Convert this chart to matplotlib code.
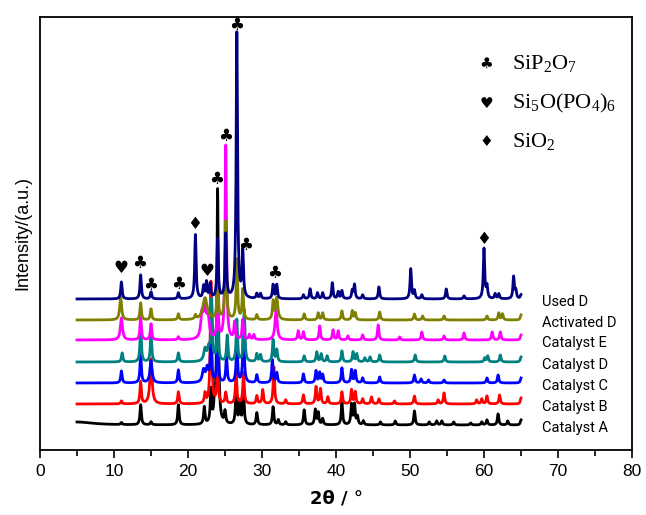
import numpy as np
import matplotlib.pyplot as plt

plt.rcParams['mathtext.fontset'] = 'custom'
plt.rcParams['mathtext.rm'] = 'Liberation Serif'
plt.rcParams['mathtext.it'] = 'Liberation Serif:italic'

################### DATA ###################
names = ['Catalyst A', 'Catalyst B', 'Catalyst C', 'Catalyst D', 'Catalyst E', 'Activated D', 'Used D']
colors = ['#000000', '#ff0000', '#0000ff', '#008080', '#ff00ff', '#808000', '#000080']
offsets = [25, 46, 67, 88, 110, 130, 151]

# (2theta, height[, width])
peaks_A = [(5.0, 3, 2.5), (11.0, 2), (13.6, 20), (15.0, 3), (18.7, 20), (22.2, 17), (23.1, 33), (23.6, 22),
           (24.0, 234), (25.0, 12), (26.5, 32), (27.0, 22), (27.5, 32), (29.3, 12), (31.5, 18), (32.2, 5),
           (33.2, 3), (35.7, 15), (37.2, 15), (37.6, 12), (38.2, 6), (40.8, 22), (42.1, 20), (42.5, 20),
           (42.9, 8), (43.7, 4), (46.0, 3), (48.0, 4), (50.6, 14), (52.6, 3), (53.6, 4), (54.3, 4),
           (55.9, 3), (58.2, 2), (59.7, 3), (60.4, 5), (61.9, 11), (63.2, 4), (65.0, 5)]
peaks_B = [(11.0, 3), (13.6, 22), (15.0, 45, 0.17), (18.7, 12), (22.3, 10), (23.1, 122), (24.0, 40),
           (25.1, 11), (26.5, 31), (27.5, 31), (29.3, 8), (30.1, 14), (31.6, 37), (33.2, 4), (35.6, 9),
           (37.3, 17), (37.9, 15), (38.9, 7), (40.8, 12), (42.1, 14), (42.6, 12), (43.6, 5), (44.8, 7),
           (45.8, 5), (47.9, 3), (50.6, 8), (53.8, 4), (54.6, 11), (59.0, 4), (59.7, 5), (60.4, 8),
           (62.1, 9), (65.0, 6)]
peaks_C = [(11.0, 12), (13.6, 28), (15.0, 22, 0.17), (18.7, 13), (22.1, 12, 0.2), (22.6, 14, 0.2), (23.1, 40),
           (24.0, 45), (25.2, 26), (26.6, 40), (27.5, 60), (29.3, 8), (31.4, 23), (32.0, 10), (35.6, 9),
           (37.3, 12), (37.8, 10), (38.2, 8), (40.8, 15), (42.1, 13), (42.6, 12), (43.6, 5), (45.9, 6),
           (50.6, 8), (51.5, 4), (52.5, 3), (54.6, 3), (60.4, 5), (61.9, 8), (65.0, 5)]
peaks_D = [(11.1, 9), (13.6, 35), (15.0, 29), (18.7, 9), (22.3, 12, 0.2), (22.8, 12, 0.2), (23.2, 60),
           (24.0, 50), (25.3, 26), (26.6, 42), (27.6, 52), (29.3, 8), (29.8, 7), (31.5, 22), (32.0, 12),
           (35.7, 6), (37.4, 10), (38.0, 8), (38.8, 6), (40.8, 11), (42.3, 10), (42.8, 8), (43.9, 4),
           (44.6, 5), (45.9, 7), (50.7, 7), (54.7, 6), (60.1, 4), (60.5, 6), (62.2, 7), (65.0, 5)]
peaks_E = [(11.0, 22, 0.17), (13.6, 23), (15.0, 16), (18.7, 3), (21.9, 24, 0.2), (22.3, 28, 0.2),
           (22.7, 20, 0.2), (24.0, 45), (25.1, 194), (26.3, 17), (27.4, 20), (28.3, 5), (28.9, 5),
           (31.9, 30, 0.17), (34.9, 9), (35.6, 8), (37.8, 14), (39.6, 10), (40.3, 9), (41.6, 4),
           (43.6, 5), (45.7, 15), (48.6, 3), (51.6, 8), (54.6, 4), (57.3, 7), (61.1, 8), (62.2, 8),
           (65.0, 5)]
peaks_Act = [(10.9, 23, 0.15), (13.6, 17), (15.0, 11), (18.7, 6), (21.0, 4), (22.3, 22, 0.35), (24.0, 40),
             (25.1, 98), (26.6, 60), (27.4, 30), (29.3, 5), (31.5, 18), (32.0, 22, 0.17), (35.7, 6),
             (37.6, 7), (38.2, 7), (40.8, 9), (42.2, 9), (42.6, 7), (45.9, 8), (50.6, 6), (51.7, 4),
             (54.6, 4), (60.4, 4), (62.0, 7), (62.5, 6), (65.0, 5)]
peaks_Used = [(11.0, 17), (13.6, 24), (15.0, 7), (18.7, 6), (21.0, 64), (22.1, 12), (22.5, 16), (23.0, 14),
              (24.0, 59), (25.1, 64), (26.6, 266), (27.4, 46), (29.3, 5), (29.8, 5), (31.5, 14), (32.0, 14),
              (35.6, 4), (36.5, 10), (37.5, 6), (38.2, 6), (39.5, 16), (40.3, 7), (40.8, 8), (42.2, 8),
              (42.5, 14), (43.6, 4), (45.8, 12), (50.1, 30), (50.6, 8), (51.6, 4), (54.9, 10), (57.3, 3),
              (60.0, 50), (60.4, 12), (61.5, 5), (62.0, 5), (64.0, 22), (64.3, 8), (65.0, 4)]
all_peaks = [peaks_A, peaks_B, peaks_C, peaks_D, peaks_E, peaks_Act, peaks_Used]

markers = [('\u2665', 10.9, 182), ('\u2663', 13.4, 187), ('\u2663', 14.9, 165), ('\u2663', 18.7, 166),
           ('\u2666', 20.9, 226), ('\u2665', 22.5, 179), ('\u2663', 23.8, 271), ('\u2663', 25.1, 314),
           ('\u2663', 26.6, 425), ('\u2663', 27.8, 205), ('\u2663', 31.7, 177), ('\u2666', 60.0, 211)]
legend_syms = ['\u2663', '\u2665', '\u2666']
legend_txt = [r'$\mathrm{SiP_2O_7}$', r'$\mathrm{Si_5O(PO_4)_6}$', r'$\mathrm{SiO_2}$']
legend_y = [387, 347, 309]

################### FIGURE ###################
fig = plt.figure(figsize=(6.46, 5.15), dpi=100)
ax = fig.add_axes([40/646, 1-450/515, 592/646, 433/515])

tt = np.linspace(5, 65, 2401)
for pk, off, c in zip(all_peaks, offsets, colors):
    y = np.zeros_like(tt) + off
    for p in pk:
        w = p[2] if len(p) > 2 else 0.11
        y += p[1] / (1 + ((tt - p[0]) / w) ** 2)
    ax.plot(tt, y, color=c, lw=2.0, solid_joinstyle='round')

for n, off in zip(names, offsets):
    ax.text(67.9, off - 3, n, fontsize=10.5, family=['Liberation Sans Narrow', 'Roboto'],
            va='center', ha='left')

for s, x, y in markers:
    ax.text(x, y, s, fontsize=12, ha='center', va='center', family='DejaVu Sans')

for s, t, y in zip(legend_syms, legend_txt, legend_y):
    ax.text(60.3, y, s, fontsize=11, ha='center', va='center', family='DejaVu Sans')
    ax.text(63.8, y, t, fontsize=16, ha='left', va='center')

ax.set_xlim(0, 80)
ax.set_ylim(0, 433)
ax.set_xticks(np.arange(0, 81, 10))
ax.set_xticks(np.arange(5, 80, 10), minor=True)
ax.set_yticks([])
ax.tick_params(axis='x', which='major', direction='out', length=6, width=1.2, labelsize=12.5, pad=4)
ax.tick_params(axis='x', which='minor', direction='out', length=4, width=1.2)
for lab in ax.get_xticklabels():
    lab.set_family('Liberation Sans')
for sp in ax.spines.values():
    sp.set_linewidth(1.3)

ax.set_xlabel('2\u03b8 / \u00b0', fontsize=13, fontweight='bold', family='DejaVu Sans', labelpad=8)
ax.set_ylabel('Intensity/(a.u.)', fontsize=13, family='Liberation Sans', labelpad=6)

fig.savefig('out.png', dpi=100)
